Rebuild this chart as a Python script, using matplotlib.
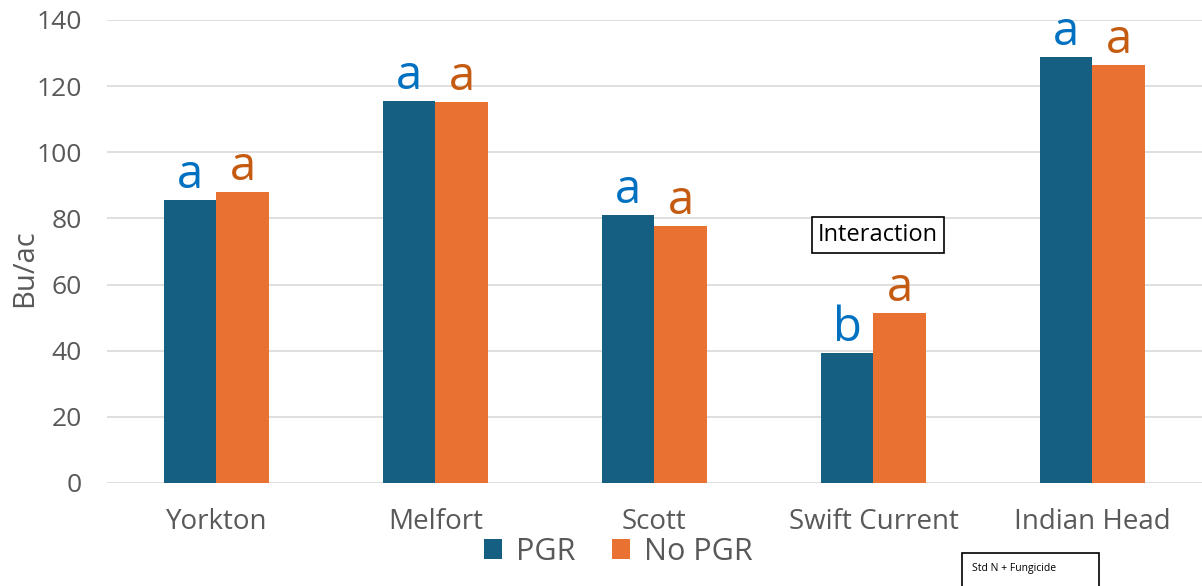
import numpy as np
import matplotlib.pyplot as plt
from matplotlib.patches import Rectangle

plt.rcParams['font.family'] = ['Open Sans', 'DejaVu Sans']

sites = ['Yorkton', 'Melfort', 'Scott', 'Swift Current', 'Indian Head']
pgr = [85.6, 115.5, 81.0, 39.3, 128.8]
no_pgr = [88.0, 115.2, 77.7, 51.4, 126.4]
pgr_letters = ['a', 'a', 'a', 'b', 'a']
no_pgr_letters = ['a', 'a', 'a', 'a', 'a']

grey = '#595959'
fig = plt.figure(figsize=(12.02, 5.86), dpi=100)
ax = fig.add_axes([0.089, 0.1758, 0.911, 0.7901])

x = np.arange(len(sites))
w = 0.24
ax.bar(x - w / 2, pgr, w, color='#156082', label='PGR', zorder=3)
ax.bar(x + w / 2, no_pgr, w, color='#E97132', label='No PGR', zorder=3)

# significance letters above each bar
for i in range(len(sites)):
    ax.annotate(pgr_letters[i], (x[i] - w / 2, pgr[i]), xytext=(0, 1),
                textcoords='offset points', ha='center', va='bottom',
                fontsize=34, color='#0070C0')
    ax.annotate(no_pgr_letters[i], (x[i] + w / 2, no_pgr[i]), xytext=(0, 1),
                textcoords='offset points', ha='center', va='bottom',
                fontsize=34, color='#C55A11')

ax.set_xlim(-0.5, len(sites) - 0.5)
ax.set_ylim(0, 140)
ax.set_yticks(range(0, 141, 20))
ax.set_xticks(x)
ax.set_xticklabels(sites)
ax.tick_params(axis='both', length=0, colors=grey)
ax.tick_params(axis='x', labelsize=20, pad=18)
ax.tick_params(axis='y', labelsize=19, pad=18)
ax.grid(axis='y', color='#D9D9D9', linewidth=1.2, zorder=0)
for s in ax.spines.values():
    s.set_visible(False)
ax.set_ylabel('Bu/ac', fontsize=21, color=grey)
ax.yaxis.set_label_coords(-0.062, 0.464)

ax.legend(loc='center', bbox_to_anchor=(0.467, -0.149), ncol=2,
          frameon=False, fontsize=22, labelcolor=grey, handlelength=0.6,
          handleheight=0.6, handletextpad=0.45, columnspacing=1.2)

ax.text(3.02, 75.1, 'Interaction', fontsize=17, color='black', ha='center', va='center',
        bbox=dict(boxstyle='square,pad=0.25', facecolor='white', edgecolor='black', linewidth=1.2))

fig.add_artist(Rectangle((962 / 1202, -0.05), 137 / 1202, 0.05 + 33 / 586,
                         transform=fig.transFigure, facecolor='white',
                         edgecolor='black', linewidth=1.2))
fig.text(972 / 1202, 1 - 568 / 586, 'Std N + Fungicide', fontsize=7.5, color='black',
         ha='left', va='center')

fig.savefig('out.png', dpi=100)
